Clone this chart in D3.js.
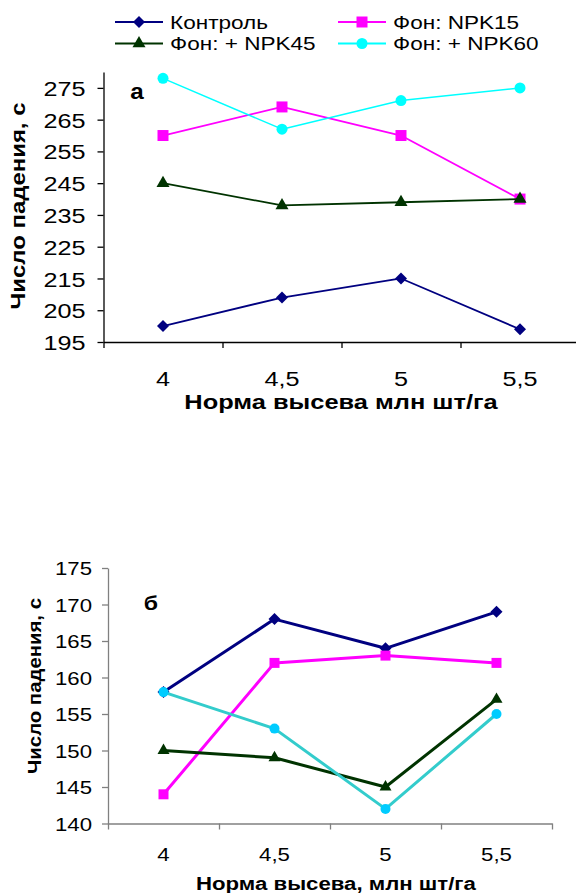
<!DOCTYPE html>
<html>
<head>
<meta charset="utf-8">
<script src="https://cdn.jsdelivr.net/npm/d3@7"></script>
<style>
    body { margin: 0; background: #fff; }
    svg { display: block; font-family: "Liberation Sans", Arial, sans-serif; }
</style>
</head>
<body>
<svg id="chart" width="576" height="893"></svg>
<script>

// categories (seeding rate, mln/ha)
var categories = ["4", "4,5", "5", "5,5"];

var seriesNames = ["Контроль", "Фон: NPK15", "Фон: + NPK45", "Фон: + NPK60"];

// panel a
var topControl = [200, 209, 215, 199];
var topNpk15   = [260, 269, 260, 240];
var topNpk45   = [245, 238, 239, 240];
var topNpk60   = [278, 262, 271, 275];
var topTicks   = [195, 205, 215, 225, 235, 245, 255, 265, 275];

// panel b
var botControl = [158, 168, 164, 169];
var botNpk15   = [144, 162, 163, 162];
var botNpk45   = [150, 149, 145, 157];
var botNpk60   = [158, 153, 142, 155];
var botTicks   = [140, 145, 150, 155, 160, 165, 170, 175];

var svg = d3.select("#chart");

// text in the original is a bit wide, stretch it horizontally
function stretchText(sel, x, y, sx, rot) {
    sel.attr("x", null).attr("y", null)
        .attr("transform", "translate(" + x + "," + y + ")" + (rot ? " rotate(" + rot + ")" : "") + " scale(" + sx + ",1)");
}

// w = visible width of the marker in px
function marker(g, shape, w, fill) {
    var sym, area;
    if (shape == "diamond") { sym = d3.symbolDiamond2; area = Math.pow(w / 1.2525, 2); }
    else if (shape == "square") { sym = d3.symbolSquare2; area = Math.pow(w / 0.8862, 2); }
    else if (shape == "triangle") { sym = d3.symbolTriangle2; area = Math.pow(w / 1.182, 2); }
    else { sym = d3.symbolCircle; area = Math.PI * w * w / 4; }
    return g.append("path")
        .attr("d", d3.symbol().type(sym).size(area)())
        .attr("fill", fill)
        .attr("stroke", "none");
}

function drawPanel(cfg) {

    var x = d3.scaleBand().domain(categories).range(cfg.xRange).padding(0);
    var xEdge = d3.scaleLinear().domain([0, categories.length]).range(cfg.xRange);
    var y = d3.scaleLinear().domain(cfg.yDomain).range(cfg.yRange);

    var g = svg.append("g");

    // y axis
    var yAxis = g.append("g")
        .attr("transform", "translate(" + cfg.xRange[0] + ",0)")
        .call(d3.axisLeft(y).tickValues(cfg.ticks).tickSize(6).tickSizeOuter(0).tickFormat(d3.format("d")));
    yAxis.select(".domain").attr("stroke", cfg.axisColor).attr("stroke-width", 1.3);
    yAxis.selectAll(".tick line").attr("stroke", cfg.axisColor).attr("stroke-width", 1.3);
    yAxis.selectAll(".tick text")
        .attr("font-size", cfg.tickFont)
        .attr("fill", "#000")
        .attr("text-anchor", "end")
        .attr("dy", null)
        .each(function () {
            stretchText(d3.select(this), -cfg.yLabelGap, cfg.tickFont * 0.36, cfg.sx);
        });

    // x axis: ticks between categories
    var xAxis = g.append("g")
        .attr("transform", "translate(0," + cfg.yRange[0] + ")")
        .call(d3.axisBottom(xEdge).tickValues(d3.range(0, categories.length + 1)).tickSize(6).tickSizeOuter(0).tickFormat(""));
    xAxis.select(".domain").attr("stroke", cfg.axisColor).attr("stroke-width", 1.3);
    xAxis.selectAll(".tick line").attr("stroke", cfg.axisColor).attr("stroke-width", 1.3);

    var xLabels = g.append("g")
        .attr("transform", "translate(0," + cfg.yRange[0] + ")")
        .call(d3.axisBottom(x).tickSize(0));
    xLabels.select(".domain").remove();
    xLabels.selectAll(".tick text")
        .attr("font-size", cfg.tickFont)
        .attr("fill", "#000")
        .attr("dy", null)
        .each(function () {
            stretchText(d3.select(this), 0, cfg.xLabelY, cfg.sx);
        });

    // axis titles
    g.append("text")
        .attr("text-anchor", "middle")
        .attr("font-weight", "bold")
        .attr("font-size", cfg.titleFont)
        .text(cfg.xTitle)
        .call(stretchText, cfg.xTitlePos[0], cfg.xTitlePos[1], cfg.sxTitle);

    g.append("text")
        .attr("text-anchor", "middle")
        .attr("font-weight", "bold")
        .attr("font-size", cfg.yTitleFont)
        .text("Число падения, с")
        .call(stretchText, cfg.yTitlePos[0], cfg.yTitlePos[1], cfg.sxY, -90);

    // panel letter
    g.append("text")
        .attr("text-anchor", "middle")
        .attr("font-weight", "bold")
        .attr("font-size", cfg.letterFont)
        .text(cfg.letter)
        .call(stretchText, cfg.letterPos[0], cfg.letterPos[1], 1.1);

    var line = d3.line()
        .x(function (d, i) { return x(categories[i]) + x.bandwidth() / 2; })
        .y(function (d) { return y(d); });

    cfg.series.forEach(function (s) {
        g.append("path")
            .datum(s.values)
            .attr("d", line)
            .attr("fill", "none")
            .attr("stroke", s.line)
            .attr("stroke-width", s.width)
            .attr("stroke-linejoin", "round");

        s.values.forEach(function (v, i) {
            marker(g, s.shape, s.size, s.fill)
                .attr("transform", "translate(" + (x(categories[i]) + x.bandwidth() / 2) + "," + y(v) + ")");
        });
    });
}

var topSeries = [
    { values: topControl, line: "#000080", fill: "#000080", shape: "diamond", size: 12, width: 1.8 },
    { values: topNpk15,   line: "#FF00FF", fill: "#FF00FF", shape: "square",  size: 11, width: 1.8 },
    { values: topNpk45,   line: "#003300", fill: "#003300", shape: "triangle", size: 13, width: 1.8 },
    { values: topNpk60,   line: "#00FFFF", fill: "#00FFFF", shape: "circle",  size: 11, width: 1.5 }
];

var botSeries = [
    { values: botControl, line: "#000080", fill: "#000080", shape: "diamond", size: 12, width: 3 },
    { values: botNpk15,   line: "#FF00FF", fill: "#FF00FF", shape: "square",  size: 10, width: 3 },
    { values: botNpk45,   line: "#003300", fill: "#003300", shape: "triangle", size: 12, width: 3 },
    { values: botNpk60,   line: "#33CCCC", fill: "#00CCFF", shape: "circle",  size: 10, width: 3 }
];

drawPanel({
    xRange: [103.5, 579.5],
    yDomain: [195, 280],
    yRange: [342, 72],
    ticks: topTicks,
    axisColor: "#000",
    tickFont: 21,
    titleFont: 21,
    yTitleFont: 21,
    letterFont: 22,
    sx: 1.2,
    sxTitle: 1.21,
    sxY: 1.14,
    yLabelGap: 18,
    xLabelY: 44,
    xTitle: "Норма высева млн шт/га",
    xTitlePos: [341, 409],
    yTitlePos: [25, 206],
    letter: "а",
    letterPos: [137, 99],
    series: topSeries
});

drawPanel({
    xRange: [108, 552],
    yDomain: [140, 175],
    yRange: [823.5, 568],
    ticks: botTicks,
    axisColor: "#808080",
    tickFont: 18.5,
    titleFont: 18.5,
    yTitleFont: 18.5,
    letterFont: 21,
    sx: 1.2,
    sxTitle: 1.2,
    sxY: 1.1,
    yLabelGap: 16,
    xLabelY: 37,
    xTitle: "Норма высева, млн шт/га",
    xTitlePos: [336, 890],
    yTitlePos: [41, 686],
    letter: "б",
    letterPos: [151, 610],
    series: botSeries
});

// legend (top)
var legendItems = [
    { name: seriesNames[0], s: topSeries[0], lx: 115, ly: 22 },
    { name: seriesNames[1], s: topSeries[1], lx: 338, ly: 22 },
    { name: seriesNames[2], s: topSeries[2], lx: 115, ly: 43.5 },
    { name: seriesNames[3], s: topSeries[3], lx: 338, ly: 43.5 }
];

var legend = svg.append("g");
legendItems.forEach(function (d) {
    var item = legend.append("g").attr("transform", "translate(" + d.lx + "," + d.ly + ")");
    item.append("line")
        .attr("x1", 0).attr("x2", 48).attr("y1", 0).attr("y2", 0)
        .attr("stroke", d.s.line).attr("stroke-width", 2);
    marker(item, d.s.shape, d.s.size, d.s.fill).attr("transform", "translate(24,0)");
    item.append("text")
        .attr("font-size", 18.5)
        .attr("fill", "#000")
        .text(d.name)
        .call(stretchText, 55, 6.7, 1.22);
});

</script>
</body>
</html>
